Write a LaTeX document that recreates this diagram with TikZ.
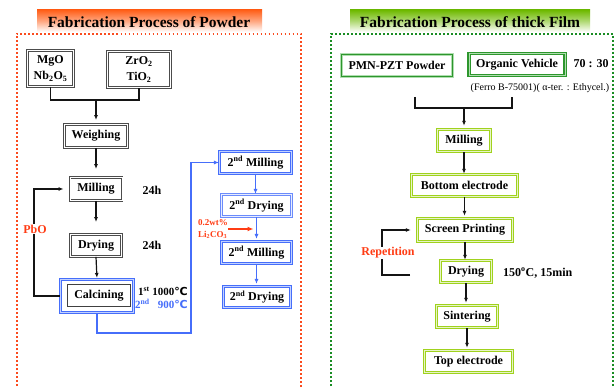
\documentclass[tikz,border=0pt]{standalone}
\usepackage{fontspec}
\setmainfont{Liberation Serif}
\newfontfamily\symfont{DejaVu Sans}
\usepackage{tikz}
\usetikzlibrary{arrows.meta, calc}
\definecolor{mydark}{RGB}{20,20,20}
\definecolor{myred}{RGB}{255,60,20}
\definecolor{myblue}{RGB}{70,110,250}
\definecolor{paleblue}{RGB}{195,210,255}
\definecolor{mygreen}{RGB}{45,150,45}
\definecolor{palegreen}{RGB}{175,222,175}
\definecolor{mylime}{RGB}{160,210,30}
\definecolor{dotred}{RGB}{250,75,30}
\definecolor{dotgreen}{RGB}{25,140,35}
\definecolor{hdrorange}{RGB}{255,95,25}
\definecolor{hdrgreen}{RGB}{110,185,0}
\tikzset{
  boxfont/.style={font=\fontsize{12}{16}\selectfont\bfseries},
  graybox/.style={rectangle, draw=black!70, double=white, double distance=0.9pt,
    line width=0.9pt, fill=white, inner sep=0pt, minimum height=22pt,
    align=center, boxfont},
  plainbox/.style={rectangle, draw=black!75, line width=1pt, fill=white,
    inner sep=0pt, minimum height=22pt, boxfont},
  bluebox/.style={rectangle, draw=myblue, double=paleblue, double distance=1pt,
    line width=1.1pt, fill=white, inner sep=0pt, minimum height=22pt, boxfont},
  lightbluebox/.style={bluebox, draw=myblue!80, double=paleblue!40},
  greenbox/.style={rectangle, draw=palegreen, double=mygreen, double distance=0.5pt,
    line width=1.1pt, fill=white, inner sep=0pt, minimum height=22pt, boxfont},
  darkgreenbox/.style={greenbox, draw=mygreen, double=palegreen, double distance=1pt},
  limebox/.style={rectangle, draw=mylime, double=mylime!25, double distance=0.8pt,
    line width=1.4pt, fill=white, inner sep=0pt, minimum height=22pt, boxfont},
  note/.style={inner sep=0pt, boxfont},
  rednote/.style={inner sep=1pt, boxfont, text=myred, fill=white},
  title/.style={inner sep=0pt, font=\fontsize{15.5}{18}\selectfont\bfseries},
  arrow/.style={-{Latex[length=5pt,width=4pt]}, line width=1.2pt, color=mydark},
  bluearrow/.style={-{Latex[length=5pt,width=4pt]}, line width=1.4pt, color=myblue},
  redarrow/.style={-{Latex[length=6pt,width=5pt]}, line width=1.6pt, color=myred},
  line/.style={line width=1.2pt, color=mydark},
  reddots/.style={dotred, line width=2pt, dash pattern=on 1.6pt off 2.4pt},
  greendots/.style={dotgreen, line width=2pt, dash pattern=on 1.6pt off 2.4pt}
}

\begin{document}
\begin{tikzpicture}[x=1pt, y=-1pt]
  \useasboundingbox (0,0) rectangle (615,387);
  \fill[white] (0,0) rectangle (615,387);

  % ── Title banners ──────────────────────────────────────────────────────────
  \shade[top color=hdrorange, bottom color=white, middle color=hdrorange!55]
    (37,10) rectangle (262,32);
  \node[title] (title1) at (149,22) {Fabrication Process of Powder};
  \shade[top color=hdrgreen, bottom color=white, middle color=hdrgreen!55]
    (350,10) rectangle (590,32);
  \node[title] (title2) at (470,22) {Fabrication Process of thick Film};

  % ── Dotted frames ──────────────────────────────────────────────────────────
  \draw[reddots] (16.5,390) -- (16.5,34) -- (301,34) -- (301,390);
  \draw[greendots] (331,390) -- (331,34) -- (613,34) -- (613,390);

  % ── Powder: raw materials ──────────────────────────────────────────────────
  \node[graybox, minimum width=46pt, minimum height=36pt] (mgo) at (50.5,68.5)
    {MgO\\Nb\textsubscript{2}O\textsubscript{5}};
  \node[graybox, minimum width=63pt, minimum height=36pt] (zro) at (139,69.5)
    {ZrO\textsubscript{2}\\TiO\textsubscript{2}};
  \coordinate (pjoin) at (96,100);
  \draw[line] (mgo.south) -- (mgo.south |- pjoin) -| (zro.south);

  % ── Powder: main line ──────────────────────────────────────────────────────
  \node[graybox, minimum width=63pt, minimum height=23pt] (weighing) at (96,136) {Weighing};
  \node[graybox, minimum width=52pt, minimum height=23pt] (milling) at (96,189) {Milling};
  \node[graybox, minimum width=51pt] (drying) at (96,245.5) {Drying};
  \node[bluebox, minimum width=73pt, minimum height=33pt] (calcframe) at (97,296) {};
  \node[plainbox, minimum width=63pt] (calcining) at (99,295.5) {Calcining};

  \node[note] (t24a) at (152,190) {24h};
  \node[note] (t24b) at (152,245) {24h};
  \node[note, anchor=east, font=\fontsize{11}{13}\selectfont\bfseries] (first)
    at (188,291) {1\textsuperscript{st} 1000{\symfont ℃}};
  \node[note, anchor=east, text=myblue, font=\fontsize{11}{13}\selectfont\bfseries] (second)
    at (188,304) {2\textsuperscript{nd}\ \ \ 900{\symfont ℃}};

  \draw[arrow, shorten >=4pt] (pjoin) -- (weighing.north);
  \draw[arrow, shorten >=8pt] (weighing.south) -- (milling.north);
  \draw[arrow, shorten >=12pt] (milling.south) -- (drying.north);
  \draw[arrow, shorten >=1pt] (drying.south) -- (calcframe.north);

  % PbO return line
  \draw[arrow, shorten >=6pt] (calcframe.west) -- ++(-26,0) |- (milling.west);
  \node[rednote] (pbo) at (35,229) {PbO};

  % ── Powder: second pass ────────────────────────────────────────────────────
  \node[bluebox, minimum width=72pt] (mill2) at (255.5,162.5) {2\textsuperscript{nd} Milling};
  \node[lightbluebox, minimum width=70pt] (dry2) at (256.5,205.5) {2\textsuperscript{nd} Drying};
  \node[bluebox, minimum width=70pt] (mill3) at (256.5,252.5) {2\textsuperscript{nd} Milling};
  \node[bluebox, minimum width=67pt, minimum height=21pt] (dry3) at (257,297) {2\textsuperscript{nd} Drying};

  \draw[bluearrow] (calcframe.south) -- ++(0,20) -| ($(mill2.west)+(-28,0)$) -- (mill2.west);
  \draw[bluearrow] (mill2.south) -- (mill2.south |- dry2.north);
  \draw[bluearrow, shorten >=2pt] (dry2.south) -- (dry2.south |- mill3.north);
  \draw[bluearrow, shorten >=2pt] (mill3.south) -- (mill3.south |- dry3.north);

  \node[inner sep=0pt, anchor=west, text=myred, align=left,
    font=\fontsize{9}{12}\selectfont\bfseries] (lico) at (198,229)
    {0.2wt\%\\Li\textsubscript{2}CO\textsubscript{3}};
  \draw[redarrow, shorten >=3pt] (lico.east) -- (lico.east -| dry2.south);

  % ── Thick film: paste ──────────────────────────────────────────────────────
  \node[greenbox, minimum width=111pt] (pmn) at (397,65.5) {PMN-PZT Powder};
  \node[darkgreenbox, minimum width=96pt] (organic) at (517,64.5) {Organic Vehicle};
  \node[note] (ratio) at (591,64) {70 : 30};
  \node[inner sep=0pt, font=\fontsize{10}{12}\selectfont] (ferro) at (540,88)
    {(Ferro B-75001)( α-ter. : Ethycel.)};
  \coordinate (legl) at (415,97);
  \coordinate (legr) at (512,97);
  \coordinate (fjoin) at (464,108);
  \draw[line] (legl) -- (legl |- fjoin) -| (legr);

  % ── Thick film: main line ──────────────────────────────────────────────────
  \node[limebox, minimum width=53pt] (fmill) at (464,140.5) {Milling};
  \node[limebox, minimum width=106pt] (bottom) at (464.5,185.5) {Bottom electrode};
  \node[limebox, minimum width=95pt, minimum height=23pt] (screen) at (465,230) {Screen Printing};
  \node[limebox, minimum width=51pt] (fdry) at (466,271.5) {Drying};
  \node[limebox, minimum width=61pt] (sinter) at (467,316.5) {Sintering};
  \node[limebox, minimum width=88pt] (top) at (468.5,361.5) {Top electrode};
  \node[note, anchor=west] (cond) at (503,273) {150\textsuperscript{o}C, 15min};

  \draw[arrow, shorten >=3pt] (fjoin) -- (fmill.north);
  \draw[arrow] (fmill.south) -- (fmill.south |- bottom.north);
  \draw[arrow, shorten >=2pt] (bottom.south) -- (bottom.south |- screen.north);
  \draw[arrow] (screen.south) -- (screen.south |- fdry.north);
  \draw[arrow, shorten >=2pt] (fdry.south) -- (fdry.south |- sinter.north);
  \draw[arrow, shorten >=2pt] (sinter.south) -- (sinter.south |- top.north);

  % repetition loop
  \coordinate (repstart) at (410,275);
  \draw[arrow, shorten >=6pt] (repstart) -- ++(-28,0) |- (screen.west);
  \node[rednote] (rep) at (388,253) {Repetition};
\end{tikzpicture}
\end{document}
